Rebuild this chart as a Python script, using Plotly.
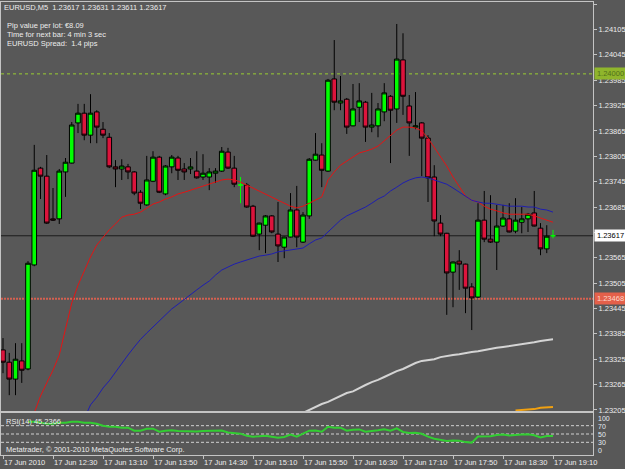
import plotly.graph_objects as go

# ---------------- data ----------------
bars = list(range(89))  # 5-minute bars, 11:50 .. 19:10 on 17 Jun 2010

opens = [1.23347, 1.23318, 1.23278, 1.23321, 1.23302, 1.23548, 1.23777, 1.23758, 1.23657, 1.23657,
         1.23768, 1.23789, 1.23884, 1.23907, 1.23855, 1.23910, 1.23869, 1.23850, 1.23780, 1.23775,
         1.23780, 1.23768, 1.23720, 1.23690, 1.23746, 1.23803, 1.23716, 1.23780, 1.23801, 1.23775,
         1.23775, 1.23770, 1.23756, 1.23756, 1.23765, 1.23770, 1.23815, 1.23777, 1.23737, 1.23737,
         1.23687, 1.23621, 1.23642, 1.23664, 1.23621, 1.23590, 1.23614, 1.23678, 1.23602, 1.23664,
         1.23796, 1.23808, 1.23770, 1.23988, 1.23931, 1.23940, 1.23877, 1.23921, 1.23933, 1.23874,
         1.23877, 1.23910, 1.23947, 1.23917, 1.24033, 1.23924, 1.23874, 1.23884, 1.23848, 1.23756,
         1.23647, 1.23623, 1.23531, 1.23557, 1.23550, 1.23496, 1.23472, 1.23654, 1.23609, 1.23602,
         1.23640, 1.23657, 1.23628, 1.23649, 1.23657, 1.23671, 1.23635, 1.23586, 1.23617]
highs = [1.23375, 1.23340, 1.23363, 1.23363, 1.23557, 1.23832, 1.23780, 1.23808, 1.23730, 1.23775,
         1.23801, 1.23886, 1.23929, 1.23929, 1.23952, 1.23914, 1.23886, 1.23860, 1.23796, 1.23798,
         1.23787, 1.23770, 1.23725, 1.23806, 1.23817, 1.23806, 1.23784, 1.23808, 1.23806, 1.23789,
         1.23801, 1.23817, 1.23810, 1.23777, 1.23777, 1.23827, 1.23825, 1.23806, 1.23756, 1.23742,
         1.23690, 1.23648, 1.23666, 1.23666, 1.23697, 1.23615, 1.23718, 1.23735, 1.23673, 1.23801,
         1.23860, 1.23836, 1.23988, 1.24080, 1.23995, 1.23943, 1.23976, 1.23978, 1.23936, 1.23955,
         1.23931, 1.23978, 1.23950, 1.24118, 1.24096, 1.23950, 1.23957, 1.23886, 1.23855, 1.23784,
         1.23666, 1.23624, 1.23556, 1.23583, 1.23551, 1.23505, 1.23694, 1.23723, 1.23713, 1.23690,
         1.23690, 1.23694, 1.23706, 1.23685, 1.23671, 1.23723, 1.23647, 1.23642, 1.23631]
lows = [1.23292, 1.23240, 1.23240, 1.23269, 1.23299, 1.23545, 1.23704, 1.23645, 1.23652, 1.23645,
        1.23709, 1.23788, 1.23860, 1.23843, 1.23836, 1.23836, 1.23848, 1.23777, 1.23732, 1.23749,
        1.23751, 1.23713, 1.23680, 1.23688, 1.23744, 1.23718, 1.23713, 1.23765, 1.23749, 1.23749,
        1.23763, 1.23752, 1.23749, 1.23725, 1.23742, 1.23768, 1.23775, 1.23732, 1.23694, 1.23683,
        1.23614, 1.23583, 1.23576, 1.23623, 1.23555, 1.23564, 1.23613, 1.23590, 1.23600, 1.23657,
        1.23795, 1.23732, 1.23768, 1.23914, 1.23914, 1.23858, 1.23876, 1.23886, 1.23839, 1.23862,
        1.23850, 1.23888, 1.23789, 1.23884, 1.23903, 1.23806, 1.23869, 1.23758, 1.23697, 1.23616,
        1.23616, 1.23430, 1.23448, 1.23489, 1.23434, 1.23394, 1.23470, 1.23602, 1.23600, 1.23536,
        1.23638, 1.23625, 1.23623, 1.23623, 1.23626, 1.23639, 1.23571, 1.23576, 1.23611]
closes = [1.23318, 1.23278, 1.23325, 1.23299, 1.23552, 1.23772, 1.23758, 1.23647, 1.23654, 1.23770,
          1.23791, 1.23879, 1.23907, 1.23855, 1.23907, 1.23874, 1.23855, 1.23780, 1.23775, 1.23782,
          1.23768, 1.23718, 1.23694, 1.23749, 1.23803, 1.23720, 1.23782, 1.23803, 1.23772, 1.23768,
          1.23780, 1.23754, 1.23765, 1.23768, 1.23770, 1.23817, 1.23777, 1.23739, 1.23737, 1.23685,
          1.23616, 1.23647, 1.23664, 1.23626, 1.23593, 1.23614, 1.23678, 1.23614, 1.23666, 1.23798,
          1.23810, 1.23772, 1.23985, 1.23933, 1.23936, 1.23874, 1.23917, 1.23936, 1.23874, 1.23879,
          1.23917, 1.23955, 1.23914, 1.24035, 1.23947, 1.23884, 1.23877, 1.23848, 1.23754, 1.23652,
          1.23621, 1.23529, 1.23555, 1.23550, 1.23493, 1.23470, 1.23654, 1.23609, 1.23602, 1.23640,
          1.23659, 1.23626, 1.23654, 1.23657, 1.23668, 1.23640, 1.23586, 1.23616, 1.23617]

N = None
ma_red = [N, N, N, N, N,
          1.23198, 1.23238, 1.23269, 1.23299, 1.23335, 1.23399, 1.23458, 1.23500, 1.23534, 1.23567,
          1.23595, 1.23614, 1.23631, 1.23645, 1.23661, 1.23666, 1.23668, 1.23673, 1.23683, 1.23692,
          1.23697, 1.23704, 1.23709, 1.23716, 1.23720, 1.23725, 1.23730, 1.23735, 1.23739, 1.23744,
          1.23749, 1.23751, 1.23749, 1.23744, 1.23737, 1.23730, 1.23723, 1.23716, 1.23709, 1.23701,
          1.23694, 1.23687, 1.23683, 1.23687, 1.23694, 1.23701, 1.23709, 1.23749, 1.23768, 1.23784,
          1.23794, 1.23803, 1.23813, 1.23817, 1.23822, 1.23829, 1.23841, 1.23853, 1.23867, 1.23874,
          1.23874, 1.23872, 1.23865, 1.23848, 1.23827, 1.23803, 1.23782, 1.23756, 1.23732, 1.23711,
          1.23701, 1.23697, 1.23687, 1.23680, 1.23676, 1.23671, 1.23668, 1.23668, 1.23668, 1.23668,
          1.23664, 1.23659, 1.23654, 1.23649]
ma_blue = [N] * 13 + [
          1.23184, 1.23217, 1.23235, 1.23257, 1.23274, 1.23295, 1.23316, 1.23335, 1.23354, 1.23372,
          1.23387, 1.23401, 1.23415, 1.23430, 1.23444, 1.23455, 1.23467, 1.23479, 1.23489, 1.23500,
          1.23510, 1.23524, 1.23536, 1.23543, 1.23550, 1.23555, 1.23560, 1.23564, 1.23569, 1.23571,
          1.23574, 1.23579, 1.23581, 1.23583, 1.23586, 1.23588, 1.23598, 1.23607, 1.23612, 1.23626,
          1.23642, 1.23654, 1.23664, 1.23671, 1.23678, 1.23685, 1.23694, 1.23704, 1.23711, 1.23723,
          1.23732, 1.23742, 1.23749, 1.23754, 1.23756, 1.23754, 1.23749, 1.23744, 1.23739, 1.23730,
          1.23720, 1.23709, 1.23701, 1.23697, 1.23694, 1.23694, 1.23692, 1.23690, 1.23687, 1.23687,
          1.23687, 1.23685, 1.23685, 1.23680, 1.23678, 1.23673]
ma_white = [N] * 48 + [
          1.23198, 1.23205, 1.23212, 1.23219, 1.23224, 1.23231, 1.23238, 1.23245, 1.23249, 1.23257,
          1.23264, 1.23271, 1.23276, 1.23283, 1.23290, 1.23297, 1.23302, 1.23309, 1.23316, 1.23321,
          1.23323, 1.23325, 1.23330, 1.23333, 1.23335, 1.23337, 1.23340, 1.23342, 1.23344, 1.23347,
          1.23349, 1.23352, 1.23354, 1.23356, 1.23359, 1.23361, 1.23363, 1.23365, 1.23368, 1.23370,
          1.23372]
ma_orange = [N] * 82 + [1.23204, 1.23205, 1.23206, 1.23207, 1.23210, 1.23211, 1.23212]

rsi = [N, N, N, N,
       79.6, 79.6, 77.2, 74.8, 74.8, 77.2, 77.2, 79.6, 79.6, 77.2,
       77.2, 74.8, 70.0, 67.6, 67.6, 65.2, 65.2, 58.0, 58.0, 62.8,
       62.8, 55.6, 58.0, 59.0, 57.0, 56.5, 57.5, 56.0, 57.0, 57.5,
       58.0, 58.5, 53.5, 52.0, 50.8, 46.0, 43.6, 44.5, 46.0, 43.6,
       41.2, 43.0, 48.4, 43.6, 50.0, 58.0, 58.5, 55.6, 67.6, 65.2,
       65.2, 58.0, 60.4, 61.0, 55.6, 56.5, 59.0, 61.5, 58.0, 63.5,
       55.0, 52.5, 53.0, 50.5, 43.6, 38.8, 36.0, 33.0, 34.5, 34.0,
       30.5, 29.3, 44.0, 45.0, 44.5, 47.5, 48.5, 46.5, 48.5, 48.8,
       49.5, 47.0, 41.5, 45.2, 45.24]
rsi_levels = [30, 50, 70]
rsi_labels = ["100", "70", "50", "30", "0"]

price_ticks = [1.23205, 1.23265, 1.23325, 1.23385, 1.23445, 1.23505, 1.23565, 1.23625, 1.23685,
               1.23745, 1.23805, 1.23865, 1.23925, 1.23985, 1.24045, 1.24105, 1.24165]
hidden_tick = 1.23625  # covered by the current-price box in the terminal
time_tick_bars = [0, 8, 16, 24, 32, 40, 48, 56, 64, 72, 80, 88]
time_tick_text = ["17 Jun 2010", "17 Jun 12:30", "17 Jun 13:10", "17 Jun 13:50", "17 Jun 14:30",
                  "17 Jun 15:10", "17 Jun 15:50", "17 Jun 16:30", "17 Jun 17:10", "17 Jun 17:50",
                  "17 Jun 18:30", "17 Jun 19:10"]

level_green = 1.24000
level_red = 1.23468

info_lines = ["EURUSD,M5  1.23617 1.23631 1.23611 1.23617",
              "Pip value per lot: €8.09",
              "Time for next bar: 4 min 3 sec",
              "EURUSD Spread:  1.4 pips"]

# ---------------- style ----------------
BG = "#585858"
FRAME = "#c4c4c4"
TXT = "#ececec"
FONT = "Liberation Sans, Arial, sans-serif"
FS = 7.5

doji = [o == c for o, c in zip(opens, closes)]
def pick(arr, keep):
    return [v if k else None for v, k in zip(arr, keep)]
normal = [not d for d in doji]

fig = go.Figure()

fig.add_trace(go.Candlestick(
    x=bars, open=pick(opens, normal), high=pick(highs, normal),
    low=pick(lows, normal), close=pick(closes, normal),
    increasing=dict(line=dict(color="#000000", width=1), fillcolor="#00ff00"),
    decreasing=dict(line=dict(color="#000000", width=1), fillcolor="#dc143c"),
    whiskerwidth=0, xaxis="x", yaxis="y", hoverinfo="skip"))

dx = [b for b, d in zip(bars, doji) if d]
fig.add_trace(go.Candlestick(
    x=dx, open=[o for o, d in zip(opens, doji) if d], high=[h for h, d in zip(highs, doji) if d],
    low=[l for l, d in zip(lows, doji) if d], close=[c for c, d in zip(closes, doji) if d],
    increasing=dict(line=dict(color="#00ff00", width=1), fillcolor="#00ff00"),
    decreasing=dict(line=dict(color="#00ff00", width=1), fillcolor="#00ff00"),
    whiskerwidth=0, xaxis="x", yaxis="y", hoverinfo="skip"))

for vals, col, w in [(ma_white, "#d4d4d4", 2), (ma_orange, "#f0a010", 2),
                     (ma_red, "#e41414", 1), (ma_blue, "#1e1eb0", 1)]:
    fig.add_trace(go.Scatter(x=bars, y=vals, mode="lines", line=dict(color=col, width=w),
                             xaxis="x", yaxis="y", hoverinfo="skip", connectgaps=False))

fig.add_trace(go.Scatter(x=bars, y=rsi, mode="lines", line=dict(color="#32cd32", width=2),
                         xaxis="x2", yaxis="y2", hoverinfo="skip"))

shapes = []
shapes.append(dict(type="line", xref="x domain", yref="y", x0=0, x1=1, y0=closes[-1], y1=closes[-1],
                   line=dict(color="#1c1c1c", width=1), layer="below"))
shapes.append(dict(type="line", xref="x domain", yref="y", x0=0, x1=1, y0=level_green, y1=level_green,
                   line=dict(color="#9acd32", width=1, dash="3px,3px"), layer="below"))
shapes.append(dict(type="line", xref="x domain", yref="y", x0=0, x1=1, y0=level_red, y1=level_red,
                   line=dict(color="#d46050", width=2, dash="2px,1px"), layer="below"))
for lv in rsi_levels:
    shapes.append(dict(type="line", xref="x2 domain", yref="y2", x0=0, x1=1, y0=lv, y1=lv,
                       line=dict(color="#d0d0d0", width=1, dash="3px,2px"), layer="below"))

H_TOP, H_PLOT = 2, 453
def py(p):
    return (H_TOP + H_PLOT - p) / H_PLOT

ann = []
for t, yy, xs in zip(info_lines, [7.5, 25, 34, 43], [2, 5, 5, 5]):
    ann.append(dict(text=t, xref="paper", yref="paper", x=0, y=py(yy), xanchor="left", yanchor="middle",
                    xshift=xs, showarrow=False, borderpad=0, font=dict(family=FONT, size=FS, color=TXT)))
ann.append(dict(text="RSI(14) 45.2366", xref="paper", yref="paper", x=0, y=py(421), xanchor="left",
                yanchor="middle", xshift=4, showarrow=False, borderpad=0,
                font=dict(family=FONT, size=FS, color=TXT)))
ann.append(dict(text="Metatrader, © 2001-2010 MetaQuotes Software Corp.", xref="paper", yref="paper",
                x=0, y=py(449), xanchor="left", yanchor="middle", xshift=4, showarrow=False, borderpad=0,
                font=dict(family=FONT, size=FS, color=TXT)))
for lab, yy in zip(rsi_labels, [418, 426, 434.5, 442.5, 450]):
    ann.append(dict(text=lab, xref="paper", yref="paper", x=1, y=py(yy), xanchor="left", yanchor="middle",
                    xshift=4, showarrow=False, borderpad=0, font=dict(family=FONT, size=7, color="#e4ecf4")))
for val, bg, fg in [(closes[-1], "#ffffff", "#000000"), (level_green, "#8fb52c", "#52701a"),
                    (level_red, "#e4604a", "#ffd8cc")]:
    ann.append(dict(text=f"{val:.5f}", xref="paper", yref="y", x=1, y=val, xanchor="left",
                    yanchor="middle", xshift=1, showarrow=False, bgcolor=bg, borderpad=1, width=29,
                    align="center", font=dict(family=FONT, size=FS, color=fg)))

price_text = ["" if v == hidden_tick else f"{v:.5f}" for v in price_ticks]

axis_common = dict(showgrid=False, zeroline=False, showline=True, mirror=True, linecolor=FRAME,
                   linewidth=1, automargin=False)
fig.update_layout(
    width=625, height=469, margin=dict(l=1, r=32, t=2, b=14, autoexpand=False),
    paper_bgcolor=BG, plot_bgcolor=BG, showlegend=False, hovermode=False,
    boxgap=0.14, boxgroupgap=0.14,
    xaxis=dict(domain=[0, 1], anchor="y", range=[-0.32, 94.4], showticklabels=False, ticks="",
               rangeslider=dict(visible=False), **axis_common),
    yaxis=dict(domain=[0.0971, 1], anchor="x", range=[1.232025, 1.241700], side="right",
               tickvals=price_ticks, ticktext=price_text, ticks="outside", ticklen=3, tickcolor=FRAME,
               tickfont=dict(family=FONT, size=FS, color=TXT), **axis_common),
    xaxis2=dict(domain=[0, 1], anchor="y2", matches="x", tickvals=time_tick_bars, ticktext=time_tick_text,
                ticks="outside", ticklen=3, tickcolor=FRAME, ticklabelposition="outside right",
                tickangle=0, tickfont=dict(family=FONT, size=FS, color=TXT),
                rangeslider=dict(visible=False), **axis_common),
    yaxis2=dict(domain=[0, 0.0927], anchor="x2", range=[-0.5, 100.5], side="right",
                showticklabels=False, ticks="", **axis_common),
    shapes=shapes, annotations=ann,
)

fig.write_html("out.html")
